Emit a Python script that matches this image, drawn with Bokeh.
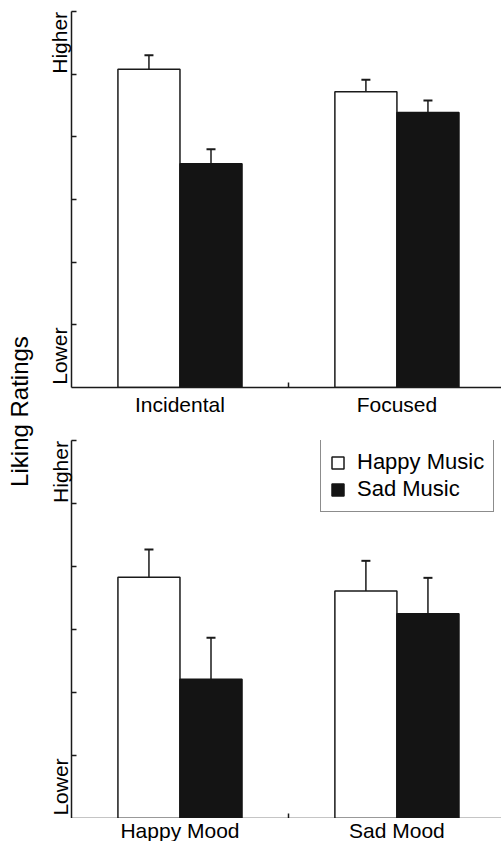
import math
from bokeh.plotting import figure
from bokeh.layouts import row, column
from bokeh.models import (ColumnDataSource, FixedTicker, Whisker, TeeHead, Legend,
                          LegendItem, Label, Range1d)
from bokeh.core.properties import value
from bokeh.embed import file_html
from bokeh.resources import INLINE

# ---- data ----
top_categories = ["Incidental", "Focused"]
top_happy = [5.08, 4.72]
top_happy_err = [0.22, 0.19]
top_sad = [3.57, 4.39]
top_sad_err = [0.23, 0.19]

bottom_categories = ["Happy Mood", "Sad Mood"]
bottom_happy = [3.83, 3.61]
bottom_happy_err = [0.44, 0.48]
bottom_sad = [2.21, 3.25]
bottom_sad_err = [0.66, 0.57]

y_tick_labels = {0.5: "Lower", 5.5: "Higher"}
series_names = ["Happy Music", "Sad Music"]
group_positions = [1, 2]

FONT = "Liberation Sans"
BAR_W = 0.286
OFF = 0.143
X_RANGE = (0.5, 2.482)


def make_panel(cats, happy, happy_err, sad, sad_err, height, border_top, border_bottom,
               show_labels, with_legend):
    p = figure(width=458, height=height, x_range=Range1d(*X_RANGE), y_range=Range1d(0, 6),
               output_backend="svg", toolbar_location=None,
               min_border_left=28, min_border_right=0,
               min_border_top=border_top, min_border_bottom=border_bottom)
    p.outline_line_color = None
    p.xgrid.visible = False
    p.ygrid.visible = False
    p.background_fill_color = "white"

    xs = group_positions
    src_h = ColumnDataSource(dict(x=[x - OFF for x in xs], top=happy,
                                  upper=[h + e for h, e in zip(happy, happy_err)]))
    src_s = ColumnDataSource(dict(x=[x + OFF for x in xs], top=sad,
                                  upper=[s + e for s, e in zip(sad, sad_err)]))
    rh = p.vbar(x="x", top="top", bottom=0, width=BAR_W, source=src_h,
                fill_color="white", line_color="#1a1a1a", line_width=1.5)
    rs = p.vbar(x="x", top="top", bottom=0, width=BAR_W, source=src_s,
                fill_color="#141414", line_color="#141414", line_width=1.5)
    for src in (src_h, src_s):
        w = Whisker(source=src, base="x", lower="top", upper="upper", dimension="height",
                    line_color="#1a1a1a", line_width=1.5, lower_head=None,
                    upper_head=TeeHead(size=9, line_width=2, line_color="#1a1a1a"))
        p.add_layout(w)

    xa = p.xaxis[0]
    xa.major_tick_in = 0
    xa.major_tick_out = 0
    xa.minor_tick_in = 5
    xa.minor_tick_out = 0
    xa.minor_tick_line_width = 1.5
    xa.minor_tick_line_color = "#1a1a1a"
    xa.axis_line_width = 1.5
    xa.axis_line_color = "#1a1a1a"
    xa.major_label_text_font = FONT
    xa.major_label_text_color = "black"
    if show_labels:
        xa.ticker = FixedTicker(ticks=xs, minor_ticks=[1.5])
        xa.major_label_overrides = {xs[0]: cats[0], xs[1]: cats[1]}
        xa.major_label_standoff = 5
        xa.major_label_text_font_size = "21px"
    else:
        xa.ticker = FixedTicker(ticks=[], minor_ticks=[1.5])
        xa.major_label_standoff = 0

    ya = p.yaxis[0]
    ya.ticker = FixedTicker(ticks=[0.5, 5.5], minor_ticks=[1, 2, 3, 4, 5, 6])
    ya.major_label_overrides = y_tick_labels
    ya.major_label_orientation = "vertical"
    ya.major_tick_in = 0
    ya.major_tick_out = 0
    ya.minor_tick_in = 5
    ya.minor_tick_out = 0
    ya.minor_tick_line_width = 1.5
    ya.minor_tick_line_color = "#1a1a1a"
    ya.axis_line_width = 1.5
    ya.axis_line_color = "#1a1a1a"
    ya.major_label_standoff = 0
    ya.major_label_text_font = FONT
    ya.major_label_text_font_size = "21px"
    ya.major_label_text_color = "black"

    if with_legend:
        legend = Legend(items=[LegendItem(label=series_names[0], renderers=[rh]),
                               LegendItem(label=series_names[1], renderers=[rs])],
                        location=(249, 306), orientation="vertical",
                        border_line_color="#1a1a1a", border_line_width=1.2,
                        background_fill_color="white", background_fill_alpha=1,
                        label_text_font=FONT, label_text_font_size="22px",
                        label_text_color="black",
                        glyph_width=15, glyph_height=15, label_standoff=12,
                        label_height=24, spacing=1, padding=9, margin=0)
        p.add_layout(legend)
    return p


top = make_panel(top_categories, top_happy, top_happy_err, top_sad, top_sad_err,
                 height=427, border_top=11, border_bottom=40,
                 show_labels=True, with_legend=False)
bottom = make_panel(bottom_categories, bottom_happy, bottom_happy_err, bottom_sad, bottom_sad_err,
                    height=391, border_top=13, border_bottom=0,
                    show_labels=False, with_legend=True)

# category labels of the lower panel, in a strip that shares its x range
xlab = figure(width=458, height=23, x_range=bottom.x_range, y_range=Range1d(0, 1),
              output_backend="svg", toolbar_location=None,
              min_border_left=28, min_border_right=0, min_border_top=0, min_border_bottom=0)
xlab.outline_line_color = None
xlab.axis.visible = False
xlab.xgrid.visible = False
xlab.ygrid.visible = False
xlab.text(x=group_positions, y=[1, 1], text=bottom_categories, text_align="center",
          text_baseline="top", text_font=value(FONT), text_font_size="21px",
          text_color="black")

lab = figure(width=43, height=841, x_range=Range1d(0, 1), y_range=Range1d(0, 1),
             output_backend="svg", toolbar_location=None, min_border=0)
lab.outline_line_color = None
lab.axis.visible = False
lab.xgrid.visible = False
lab.ygrid.visible = False
lab.add_layout(Label(x=19, y=430, x_units="screen", y_units="screen", text="Liking Ratings",
                     angle=math.pi / 2, text_align="center", text_baseline="middle",
                     text_font=FONT, text_font_size="24px", text_color="black"))

layout = row(lab, column(top, bottom, xlab))
open("out.html", "w").write(file_html(layout, INLINE))
